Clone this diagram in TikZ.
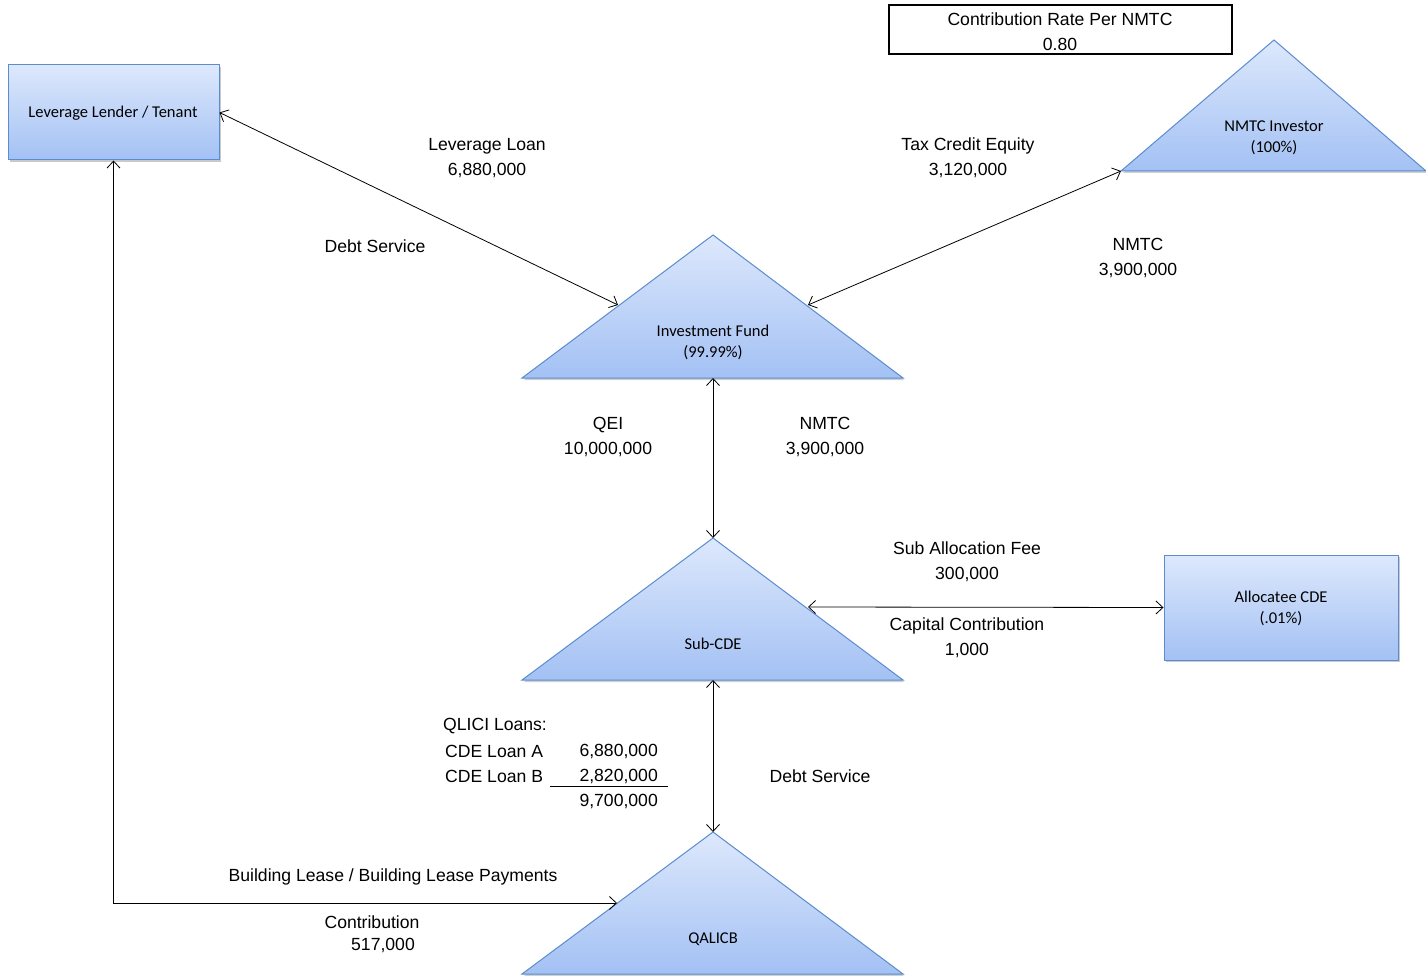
\documentclass[tikz,border=0pt]{standalone}
\usepackage{fontspec}
\setmainfont{Liberation Sans}
\newfontfamily\calfont{Carlito}
\usetikzlibrary{arrows.meta,shadows}
\definecolor{gtop}{HTML}{DDE8FC}
\definecolor{gbot}{HTML}{A3C1F4}
\definecolor{bordc}{HTML}{5B8CCF}
\begin{document}
\begin{tikzpicture}[x=1pt,y=-1pt,
  lab/.style={font=\fontsize{17.6}{25}\selectfont, inner sep=0pt, align=center},
  ent/.style={font=\calfont\fontsize{16.5}{21}\selectfont, inner sep=0pt, align=center},
  boxent/.style={draw=bordc, line width=1pt, top color=gtop, bottom color=gbot,
    drop shadow={shadow xshift=1.5pt, shadow yshift=-2pt, opacity=0.35, fill=black!60}},
  tri/.style={draw=bordc, line width=1pt, top color=gtop, bottom color=gbot},
  trishadow/.style={fill=black!60, opacity=0.3},
  conn/.style={draw=black, line width=0.8pt, {Straight Barb[length=7pt,width=13pt]}-{Straight Barb[length=7pt,width=13pt]}}
]
\useasboundingbox (0,0) rectangle (1426,976);
\fill[white] (0,0) rectangle (1426,976);

% ---- rectangles ----
\node[boxent, minimum width=211pt, minimum height=95pt] (LL) at (113.5,112.5) {};
\node[ent] (LLt) at (113,113) {Leverage Lender / Tenant};
\node[boxent, minimum width=234pt, minimum height=105pt] (AC) at (1281,607.5) {};
\node[ent] (ACt) at (1281,608) {Allocatee CDE\\(.01\%)};

\node[draw=black, line width=1.8pt, minimum width=343pt, minimum height=49pt, inner sep=0pt] (CR) at (1060.5,29.5) {};
\node[lab] (CRt) at (1060,32) {Contribution Rate Per NMTC\\0.80};

% ---- triangles ----
% Investment Fund
\fill[trishadow] (713,237)--(904,380)--(524,380)--cycle;
\shade[tri] (713,235)--(903,378)--(522,378)--cycle;
\node[ent] (IF) at (713,342) {Investment Fund\\(99.99\%)};
\coordinate (IFl) at (618,305);
\coordinate (IFr) at (808,305);
\coordinate (IFb) at (713,378);
% NMTC Investor
\fill[trishadow] (1274,42)--(1428,173)--(1123,173)--cycle;
\shade[tri] (1274,40)--(1426,171)--(1121,171)--cycle;
\node[ent] (NI) at (1274,138) {NMTC Investor\\(100\%)};
\coordinate (NIl) at (1121,171);
% Sub-CDE
\fill[trishadow] (713,540)--(904,682)--(524,682)--cycle;
\shade[tri] (713,538)--(903,680)--(522,680)--cycle;
\node[ent] (SC) at (713,644) {Sub-CDE};
\coordinate (SCt) at (713,538);
\coordinate (SCr) at (808,607);
\coordinate (SCb) at (713,680);
% QALICB
\fill[trishadow] (713,834)--(904,976)--(524,976)--cycle;
\shade[tri] (713,832)--(903,974)--(522,974)--cycle;
\node[ent] (QA) at (713,939) {QALICB};
\coordinate (QAt) at (713,832);
\coordinate (QAl) at (617,903);

% ---- connectors ----
\draw[conn] (LL.east) -- (IFl);
\draw[conn] (NIl) -- (IFr);
\draw[conn] (IFb) -- (SCt);
\draw[conn] (SCr) -- (AC.west);
\draw[conn] (SCb) -- (QAt);
\draw[conn] (LL.south) |- (QAl);

% ---- labels ----
\node[lab] (l1) at (487,158) {Leverage Loan\\6,880,000};
\node[lab] (l2) at (375,246) {Debt Service};
\node[lab] (l3) at (968,158) {Tax Credit Equity\\3,120,000};
\node[lab] (l4) at (1138,258) {NMTC\\3,900,000};
\node[lab] (l5) at (608,437) {QEI\\10,000,000};
\node[lab] (l6) at (825,437) {NMTC\\3,900,000};
\node[lab] (l7) at (967,562) {Sub Allocation Fee\\300,000};
\node[lab] (l8) at (967,638) {Capital Contribution\\1,000};
\node[lab, anchor=west] (q0) at (443,726) {QLICI Loans:};
\node[lab, anchor=west] (q1) at (445,751) {CDE Loan A};
\node[lab, anchor=east] (q2) at (658,751) {6,880,000};
\node[lab, anchor=west] (q3) at (445,776) {CDE Loan B};
\node[lab, anchor=east] (q4) at (658,776) {2,820,000};
\node[lab, anchor=east] (q5) at (658,801) {9,700,000};
\draw[line width=1pt] (550,786) -- (668,786);
\node[lab] (l9) at (820,776) {Debt Service};
\node[lab] (l10) at (393,877) {Building Lease / Building Lease Payments};
\node[lab] (l11) at (372,922) {Contribution};
\node[lab] (l12) at (383,945) {517,000};
\end{tikzpicture}
\end{document}
